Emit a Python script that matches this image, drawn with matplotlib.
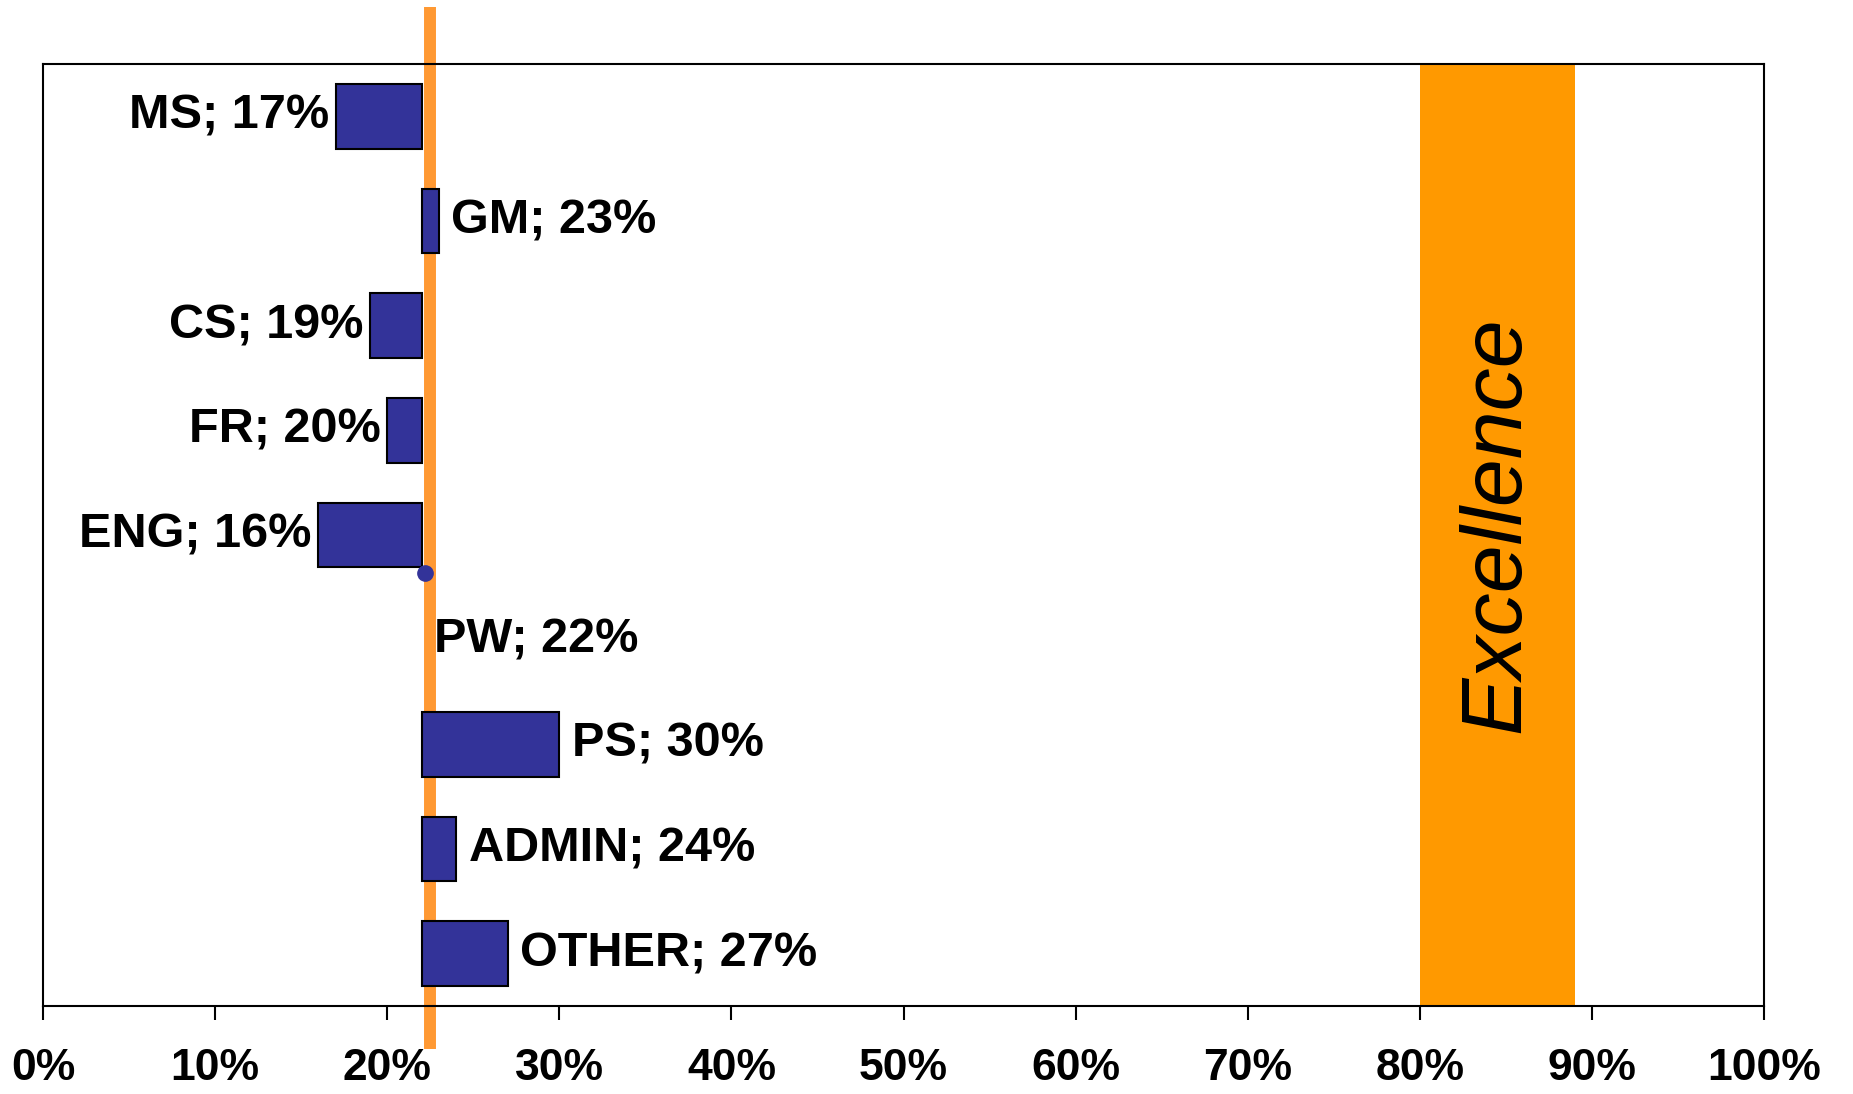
import numpy as np
import matplotlib
matplotlib.use("Agg")
import matplotlib.pyplot as plt
import matplotlib.transforms as mtransforms

plt.rcParams['font.family'] = ['Liberation Sans', 'DejaVu Sans']

# data
categories = ['MS', 'GM', 'CS', 'FR', 'ENG', 'PW', 'PS', 'ADMIN', 'OTHER']
values = [17, 23, 19, 20, 16, 22, 30, 24, 27]   # percent
baseline = 22        # bars start here
avg_line = 22.5      # orange vertical line
excellence = (80, 89)
dot_x, dot_y = 22.2, 4.36   # the small marker under ENG

fig = plt.figure(figsize=(18.53, 10.94), dpi=100)
ax = fig.add_axes([0.0232, 0.0804, 0.9288, 0.8611])

y = np.arange(len(categories))
widths = [v - baseline for v in values]
edge_w = [1.5 if w != 0 else 0 for w in widths]  # zero-width bar shows nothing

# excellence band
ax.axvspan(excellence[0], excellence[1], color='#FF9900', zorder=1, lw=0)
ax.text(sum(excellence) / 2, 3.9, 'Excellence', rotation=90, style='italic',
        fontsize=62, ha='center', va='center', zorder=2)

# orange line, sticks out of the axes at top and bottom
trans = mtransforms.blended_transform_factory(ax.transData, ax.transAxes)
ax.plot([avg_line, avg_line], [-0.046, 1.06], color='#FF9933', lw=8.6,
        transform=trans, clip_on=False, zorder=2, solid_capstyle='butt')

ax.barh(y, widths, left=baseline, height=0.62, color='#333399',
        edgecolor='black', linewidth=edge_w, zorder=3)
ax.plot(dot_x, dot_y, 'o', color='#333399', markersize=11, zorder=4)

for yi, cat, v in zip(y, categories, values):
    lab = f'{cat}; {v}%'
    if v < baseline:
        ax.annotate(lab, (v, yi), xytext=(-5, 0), textcoords='offset points',
                    ha='right', va='center', fontsize=35, fontweight='bold')
    else:
        ax.annotate(lab, (v, yi), xytext=(9, 0), textcoords='offset points',
                    ha='left', va='center', fontsize=35, fontweight='bold')

ax.set_xlim(0, 100)
ax.set_ylim(len(categories) - 0.5, -0.5)
ax.set_xticks(np.arange(0, 101, 10))
ax.set_xticklabels([f'{t}%' for t in range(0, 101, 10)], fontsize=32, fontweight='bold')
ax.set_yticks([])
ax.tick_params(axis='x', direction='out', length=10, width=1.5, pad=20)
for s in ax.spines.values():
    s.set_linewidth(1.5)
    s.set_zorder(5)

fig.savefig('out.png', dpi=100)
